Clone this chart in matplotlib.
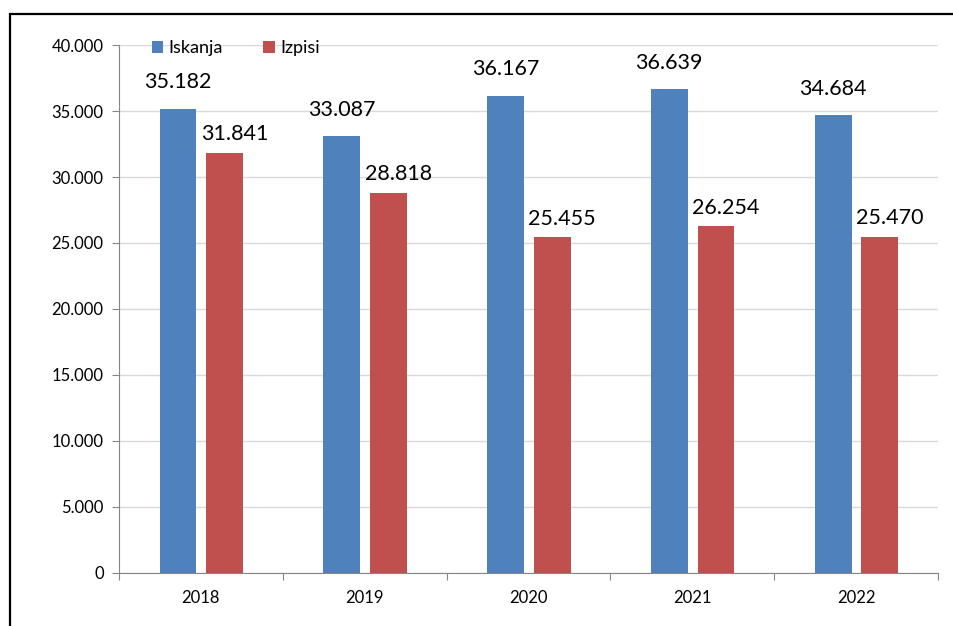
import numpy as np
import matplotlib.pyplot as plt
from matplotlib.patches import Rectangle
from matplotlib.ticker import FuncFormatter

years = ['2018', '2019', '2020', '2021', '2022']
iskanja = [35182, 33087, 36167, 36639, 34684]
izpisi = [31841, 28818, 25455, 26254, 25470]

plt.rcParams['font.family'] = ['Lato', 'DejaVu Sans']

fig = plt.figure(figsize=(9.54, 6.26), dpi=100)
ax = fig.add_axes([0.1247, 0.0847, 0.8585, 0.8434])

# outer frame (cut off on right and bottom)
fig.patches.append(Rectangle((10 / 954, -0.2), 2.0, 1 - 14 / 626 + 0.2,
                             transform=fig.transFigure, fill=False,
                             edgecolor='black', linewidth=1.6))

x = np.arange(len(years))
w = 0.225
b1 = ax.bar(x - 0.14, iskanja, w, color='#4F81BD', label='Iskanja', zorder=2)
b2 = ax.bar(x + 0.145, izpisi, w, color='#C0504D', label='Izpisi', zorder=2)

fmt = lambda v: f'{v:,.0f}'.replace(',', '.')
for r, v in zip(b1, iskanja):
    ax.annotate(fmt(v), (r.get_x() + r.get_width() / 2, v), xytext=(0, 12),
                textcoords='offset points', ha='center', va='bottom', fontsize=15.5)
for r, v in zip(b2, izpisi):
    ax.annotate(fmt(v), (r.get_x() + r.get_width() / 2, v), xytext=(7, 6),
                textcoords='offset points', ha='center', va='bottom', fontsize=15.5)

ax.set_ylim(0, 40000)
ax.set_xlim(-0.5, 4.5)
ax.set_yticks(np.arange(0, 40001, 5000))
ax.yaxis.set_major_formatter(FuncFormatter(lambda v, p: fmt(v)))
ax.set_xticks(np.arange(-0.5, 4.6, 1))
ax.set_xticklabels([])
ax.set_xticks(x, minor=True)
ax.set_xticklabels(years, minor=True)
ax.tick_params(axis='x', which='minor', length=0, pad=12, labelsize=12)
ax.tick_params(axis='x', which='major', length=5, color='#868686')
ax.tick_params(axis='y', length=5, color='#868686', labelsize=12, pad=6)

ax.grid(axis='y', color='#D9D9D9', linewidth=1, zorder=0)
for s in ['top', 'right']:
    ax.spines[s].set_visible(False)
for s in ['left', 'bottom']:
    ax.spines[s].set_color('#868686')

ax.legend(loc='upper left', bbox_to_anchor=(0.02, 1.04), ncol=2, frameon=False,
          fontsize=13, handlelength=0.65, handleheight=0.65, handletextpad=0.3,
          columnspacing=2.2)

fig.savefig('out.png', dpi=100)
